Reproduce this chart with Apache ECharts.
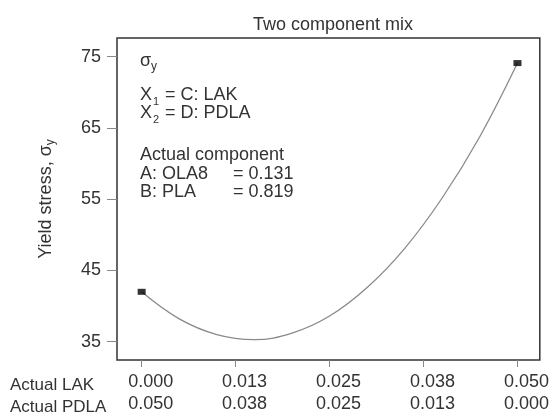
<!DOCTYPE html>
<html>
<head>
<meta charset="utf-8">
<script src="https://cdn.jsdelivr.net/npm/echarts@6/dist/echarts.min.js"></script>
<style>
  html, body { margin: 0; padding: 0; background: #fff; }
  #main { width: 552px; height: 417px; }
</style>
</head>
<body>
<div id="main"></div>
<script>
// curve, Actual LAK vs yield stress
var lakValues = [0, 0.005, 0.010, 0.015, 0.020, 0.025, 0.030, 0.035, 0.040, 0.045, 0.050];
var stressValues = [42.0, 38.2, 36.0, 35.3, 36.2, 38.6, 42.6, 48.1, 55.2, 63.8, 74.1];
// design points (black squares)
var pointLak = [0, 0.05];
var pointStress = [42.0, 74.1];

var xTicks = [0, 0.0125, 0.025, 0.0375, 0.05];
var lakLabels = ['0.000', '0.013', '0.025', '0.038', '0.050'];
var pdlaLabels = ['0.050', '0.038', '0.025', '0.013', '0.000'];
var yTicks = [35, 45, 55, 65, 75];

var txt = '#333';
var font = 'Liberation Sans, Arial, sans-serif';

function t(x, y, s, size) {
    return { type: 'text', left: x, top: y, style: { text: s, fill: txt, font: (size || 18) + 'px ' + font } };
}

var chart = echarts.init(document.getElementById('main'));
var option = {
    animation: false,
    title: {
        text: 'Two component mix',
        left: 328, top: 11, textAlign: 'center',
        textStyle: { color: txt, fontSize: 18, fontWeight: 'normal', fontFamily: font }
    },
    grid: {
        left: 117, right: 12, top: 38, bottom: 57,
        show: true, borderColor: '#333', borderWidth: 1.5, backgroundColor: '#fff'
    },
    xAxis: {
        type: 'value',
        min: -0.00328, max: 0.05297,
        axisLine: { show: false, onZero: false },
        splitLine: { show: false },
        axisTick: { show: true, length: 7, customValues: xTicks, lineStyle: { color: '#888' } },
        axisLabel: {
            customValues: xTicks,
            margin: 11,
            color: txt, fontSize: 18, fontFamily: font, lineHeight: 22,
            padding: [0, 0, 0, 18],
            formatter: function (v) {
                var i = Math.round(v / 0.0125);
                return lakLabels[i] + '\n' + pdlaLabels[i];
            }
        }
    },
    yAxis: {
        type: 'value',
        min: 32.43, max: 77.62,
        name: '{n|Yield stress, σ}{s|y}',
        nameLocation: 'middle', nameGap: 60,
        nameTextStyle: {
            rich: {
                n: { color: txt, fontSize: 18, fontFamily: font, lineHeight: 22 },
                s: { color: txt, fontSize: 12, fontFamily: font, lineHeight: 8, verticalAlign: 'bottom' }
            }
        },
        axisLine: { show: false, onZero: false },
        splitLine: { show: false },
        axisTick: { show: true, length: 10, customValues: yTicks, lineStyle: { color: '#888' } },
        axisLabel: { customValues: yTicks, margin: 16, color: txt, fontSize: 18, fontFamily: font }
    },
    series: [{
        type: 'line',
        data: lakValues.map(function (x, i) { return [x, stressValues[i]]; }),
        smooth: 0.4,
        showSymbol: false,
        lineStyle: { color: '#8a8a8a', width: 1.3 },
        z: 2
    }, {
        type: 'scatter',
        data: pointLak.map(function (x, i) { return [x, pointStress[i]]; }),
        symbol: 'rect',
        symbolSize: [8, 6],
        itemStyle: { color: '#000' },
        z: 3
    }],
    graphic: [
        t(10, 377, 'Actual LAK', 17),
        t(10, 399, 'Actual PDLA', 17),
        // annotation block
        t(140, 52, 'σ'),
        t(151, 61, 'y', 12),
        t(140, 86, 'X'),
        t(153, 96, '1', 11),
        t(160, 86, ' = C: LAK'),
        t(140, 104, 'X'),
        t(153, 114, '2', 11),
        t(160, 104, ' = D: PDLA'),
        { type: 'text', left: 140, top: 146, style: {
            text: 'Actual component\nA: OLA8\nB: PLA',
            fill: txt, font: '18px ' + font, lineHeight: 18.5 } },
        { type: 'text', left: 233, top: 164.5, style: {
            text: '= 0.131\n= 0.819',
            fill: txt, font: '18px ' + font, lineHeight: 18.5 } }
    ]
};
chart.setOption(option);
</script>
</body>
</html>
